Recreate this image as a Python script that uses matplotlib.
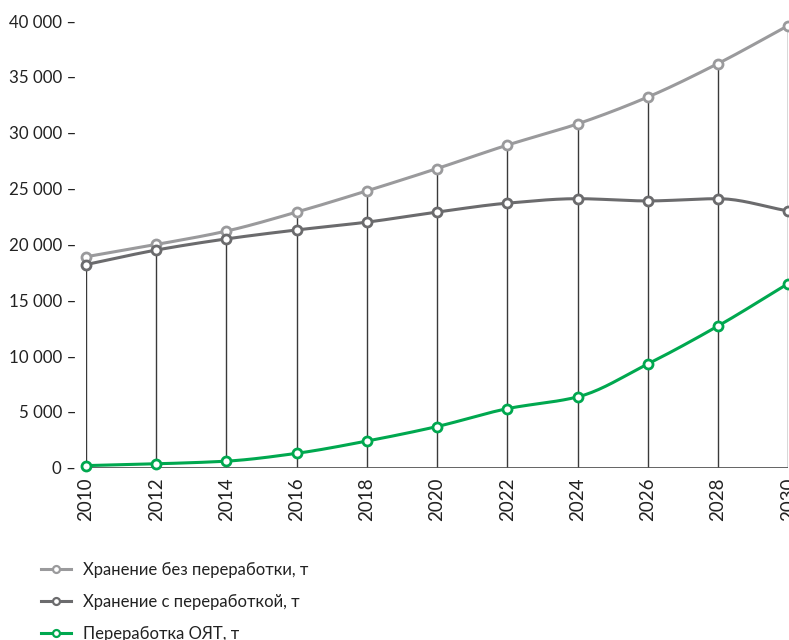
import matplotlib
matplotlib.use('Agg')
import matplotlib.pyplot as plt
from matplotlib.ticker import FuncFormatter
import numpy as np

plt.rcParams['font.family'] = ['Lato', 'DejaVu Sans']

years = [2010, 2012, 2014, 2016, 2018, 2020, 2022, 2024, 2026, 2028, 2030]
storage_no_reproc = [18900, 20000, 21200, 22900, 24800, 26800, 28900, 30800, 33200, 36200, 39600]
storage_reproc = [18200, 19500, 20500, 21300, 22000, 22900, 23700, 24100, 23900, 24100, 23000]
reprocessing = [200, 360, 600, 1300, 2400, 3700, 5300, 6350, 9300, 12700, 16500]

labels = ['Хранение без переработки, т', 'Хранение с переработкой, т', 'Переработка ОЯТ, т']
colors = ['#9a9a9c', '#6b6b6d', '#00a84f']


def monotone(x, y, n=20):
    # monotone cubic (Fritsch-Carlson) for a smooth line through the points
    x = np.asarray(x, float)
    y = np.asarray(y, float)
    h = np.diff(x)
    d = np.diff(y) / h
    m = np.zeros_like(y)
    m[0], m[-1] = d[0], d[-1]
    for i in range(1, len(x) - 1):
        if d[i - 1] * d[i] <= 0:
            m[i] = 0
        else:
            m[i] = 3 * (h[i - 1] + h[i]) / ((2 * h[i] + h[i - 1]) / d[i - 1] + (h[i] + 2 * h[i - 1]) / d[i])
    xs, ys = [], []
    for i in range(len(x) - 1):
        t = np.linspace(0, 1, n, endpoint=False)
        h00 = 2 * t**3 - 3 * t**2 + 1
        h10 = t**3 - 2 * t**2 + t
        h01 = -2 * t**3 + 3 * t**2
        h11 = t**3 - t**2
        xs.append(x[i] + t * h[i])
        ys.append(h00 * y[i] + h10 * h[i] * m[i] + h01 * y[i + 1] + h11 * h[i] * m[i + 1])
    xs.append([x[-1]])
    ys.append([y[-1]])
    return np.concatenate(xs), np.concatenate(ys)


fig = plt.figure(figsize=(7.89, 6.4), dpi=100)
ax = fig.add_axes([0.109, 0.269, 0.89, 0.698])

# vertical guides from zero to the highest value of each year
tops = np.max([storage_no_reproc, storage_reproc, reprocessing], axis=0)
ax.vlines(years, 0, tops, color='#3a3a3a', lw=1, zorder=1)
ax.axhline(0, color='#555555', lw=2, zorder=1)

series = [storage_no_reproc, storage_reproc, reprocessing]
for vals, c, lab in zip(series, colors, labels):
    sx, sy = monotone(years, vals)
    ax.plot(sx, sy, color=c, lw=2.2, zorder=3, clip_on=False)
    ax.plot(years, vals, 'o', ms=6.5, mfc='white', mec=c, mew=2, zorder=4, clip_on=False)

ax.set_xlim(2010, 2030)
ax.set_ylim(0, 40000)
ax.set_yticks(range(0, 40001, 5000))
# the dash after each value stands in for the tick mark
ax.yaxis.set_major_formatter(FuncFormatter(lambda v, p: f'{int(v):,}'.replace(',', ' ') + ' –'))
ax.set_xticks(years)
ax.set_xticklabels([str(y) for y in years], rotation=90)
for s in ax.spines.values():
    s.set_visible(False)
ax.tick_params(axis='y', length=0, pad=7, labelsize=12.2, labelcolor='#222222')
ax.tick_params(axis='x', length=0, pad=7, labelsize=13.5, labelcolor='#222222')

handles = [plt.Line2D([], [], color=c, lw=2.2, marker='o', ms=5, mfc='white', mec=c, mew=1.6) for c in colors]
fig.legend(handles, labels, loc='upper left', bbox_to_anchor=(0.033, 0.145), frameon=False,
           fontsize=12, labelspacing=0.95, handlelength=1.8, handletextpad=0.7, labelcolor='#222222')

fig.savefig('out.png', dpi=100)
